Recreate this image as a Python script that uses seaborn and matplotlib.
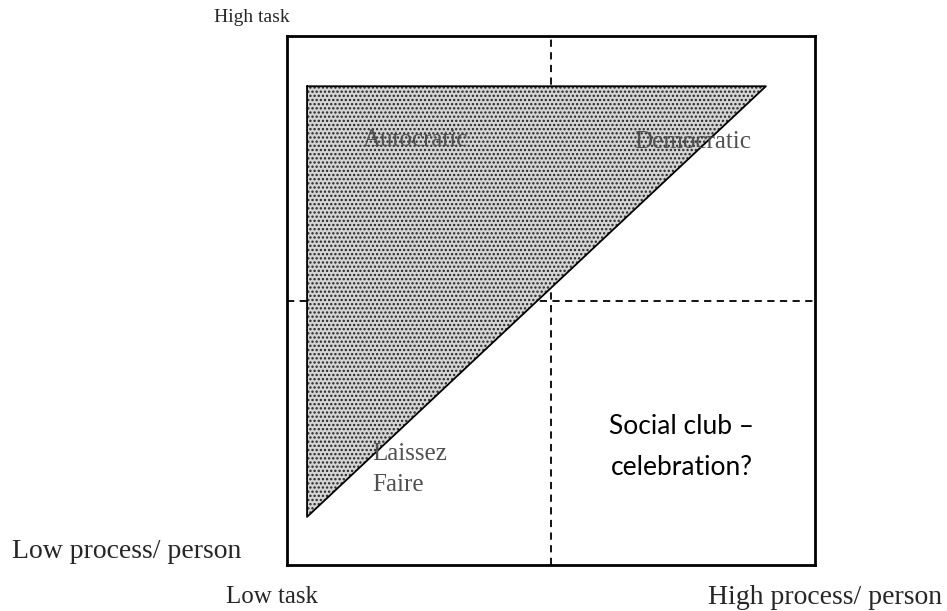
import matplotlib
matplotlib.use("Agg")
import matplotlib.pyplot as plt
import seaborn as sns
import pandas as pd

# triangle of leadership styles (box runs 0..10 on both axes)
tri_x = [0.38, 9.07, 0.38, 0.38]
tri_y = [9.05, 9.05, 0.91, 9.05]
mid_x = 5.0
mid_y = 5.0

style_names = ["Autocratic", "Democratic", "Laissez\nFaire"]
style_x = [2.44, 7.69, 1.61]
style_y = [8.03, 8.0, 1.81]
style_ha = ["center", "center", "left"]

sns.set_theme(style="white")
plt.rcParams['font.family'] = ['Liberation Serif', 'DejaVu Serif']
plt.rcParams['hatch.color'] = '#222222'
plt.rcParams['hatch.linewidth'] = 1.1

fig = plt.figure(figsize=(9.47, 6.11), dpi=100)
ax = fig.add_axes([287 / 947, 46 / 611, 528 / 947, 529 / 611])
ax.set_xlim(0, 10)
ax.set_ylim(0, 10)

# quadrant dividers sit under the triangle
ax.axvline(mid_x, color="black", linestyle=(0, (4, 3)), linewidth=1.3, zorder=1)
ax.axhline(mid_y, color="black", linestyle=(0, (4, 3)), linewidth=1.3, zorder=1)

# shaded triangle: light fill + dotted texture
ax.fill(tri_x, tri_y, facecolor="#d4d4d4", edgecolor="none", zorder=2)
ax.fill(tri_x, tri_y, facecolor="none", edgecolor="#222222", linewidth=0,
        hatch="....", zorder=2)
tri_df = pd.DataFrame({"x": tri_x, "y": tri_y})
sns.lineplot(data=tri_df, x="x", y="y", sort=False, estimator=None,
             color="black", linewidth=1.3, ax=ax, zorder=3)

for name, x, y, ha in zip(style_names, style_x, style_y, style_ha):
    ax.text(x, y, name, ha=ha, va="center", fontsize=18, color="#505050",
            linespacing=1.5, zorder=4)

ax.text(7.48, 2.24, "Social club \u2013\ncelebration?", ha="center", va="center",
        fontsize=19, color="black", family=["Lato", "DejaVu Sans"], linespacing=1.8)

for s in ax.spines.values():
    s.set_visible(True)
    s.set_color("black")
    s.set_linewidth(2)
ax.set_xticks([])
ax.set_yticks([])
ax.set_xlabel("")
ax.set_ylabel("")

fig.text(252 / 947, 1 - 18 / 611, "High task", ha="center", va="center", fontsize=14)
fig.text(127 / 947, 1 - 552 / 611, "Low process/ person", ha="center", va="center", fontsize=20)
fig.text(272 / 947, 1 - 597 / 611, "Low task", ha="center", va="center", fontsize=18)
fig.text(825 / 947, 1 - 598 / 611, "High process/ person", ha="center", va="center", fontsize=20)

fig.savefig("out.png", dpi=100)
